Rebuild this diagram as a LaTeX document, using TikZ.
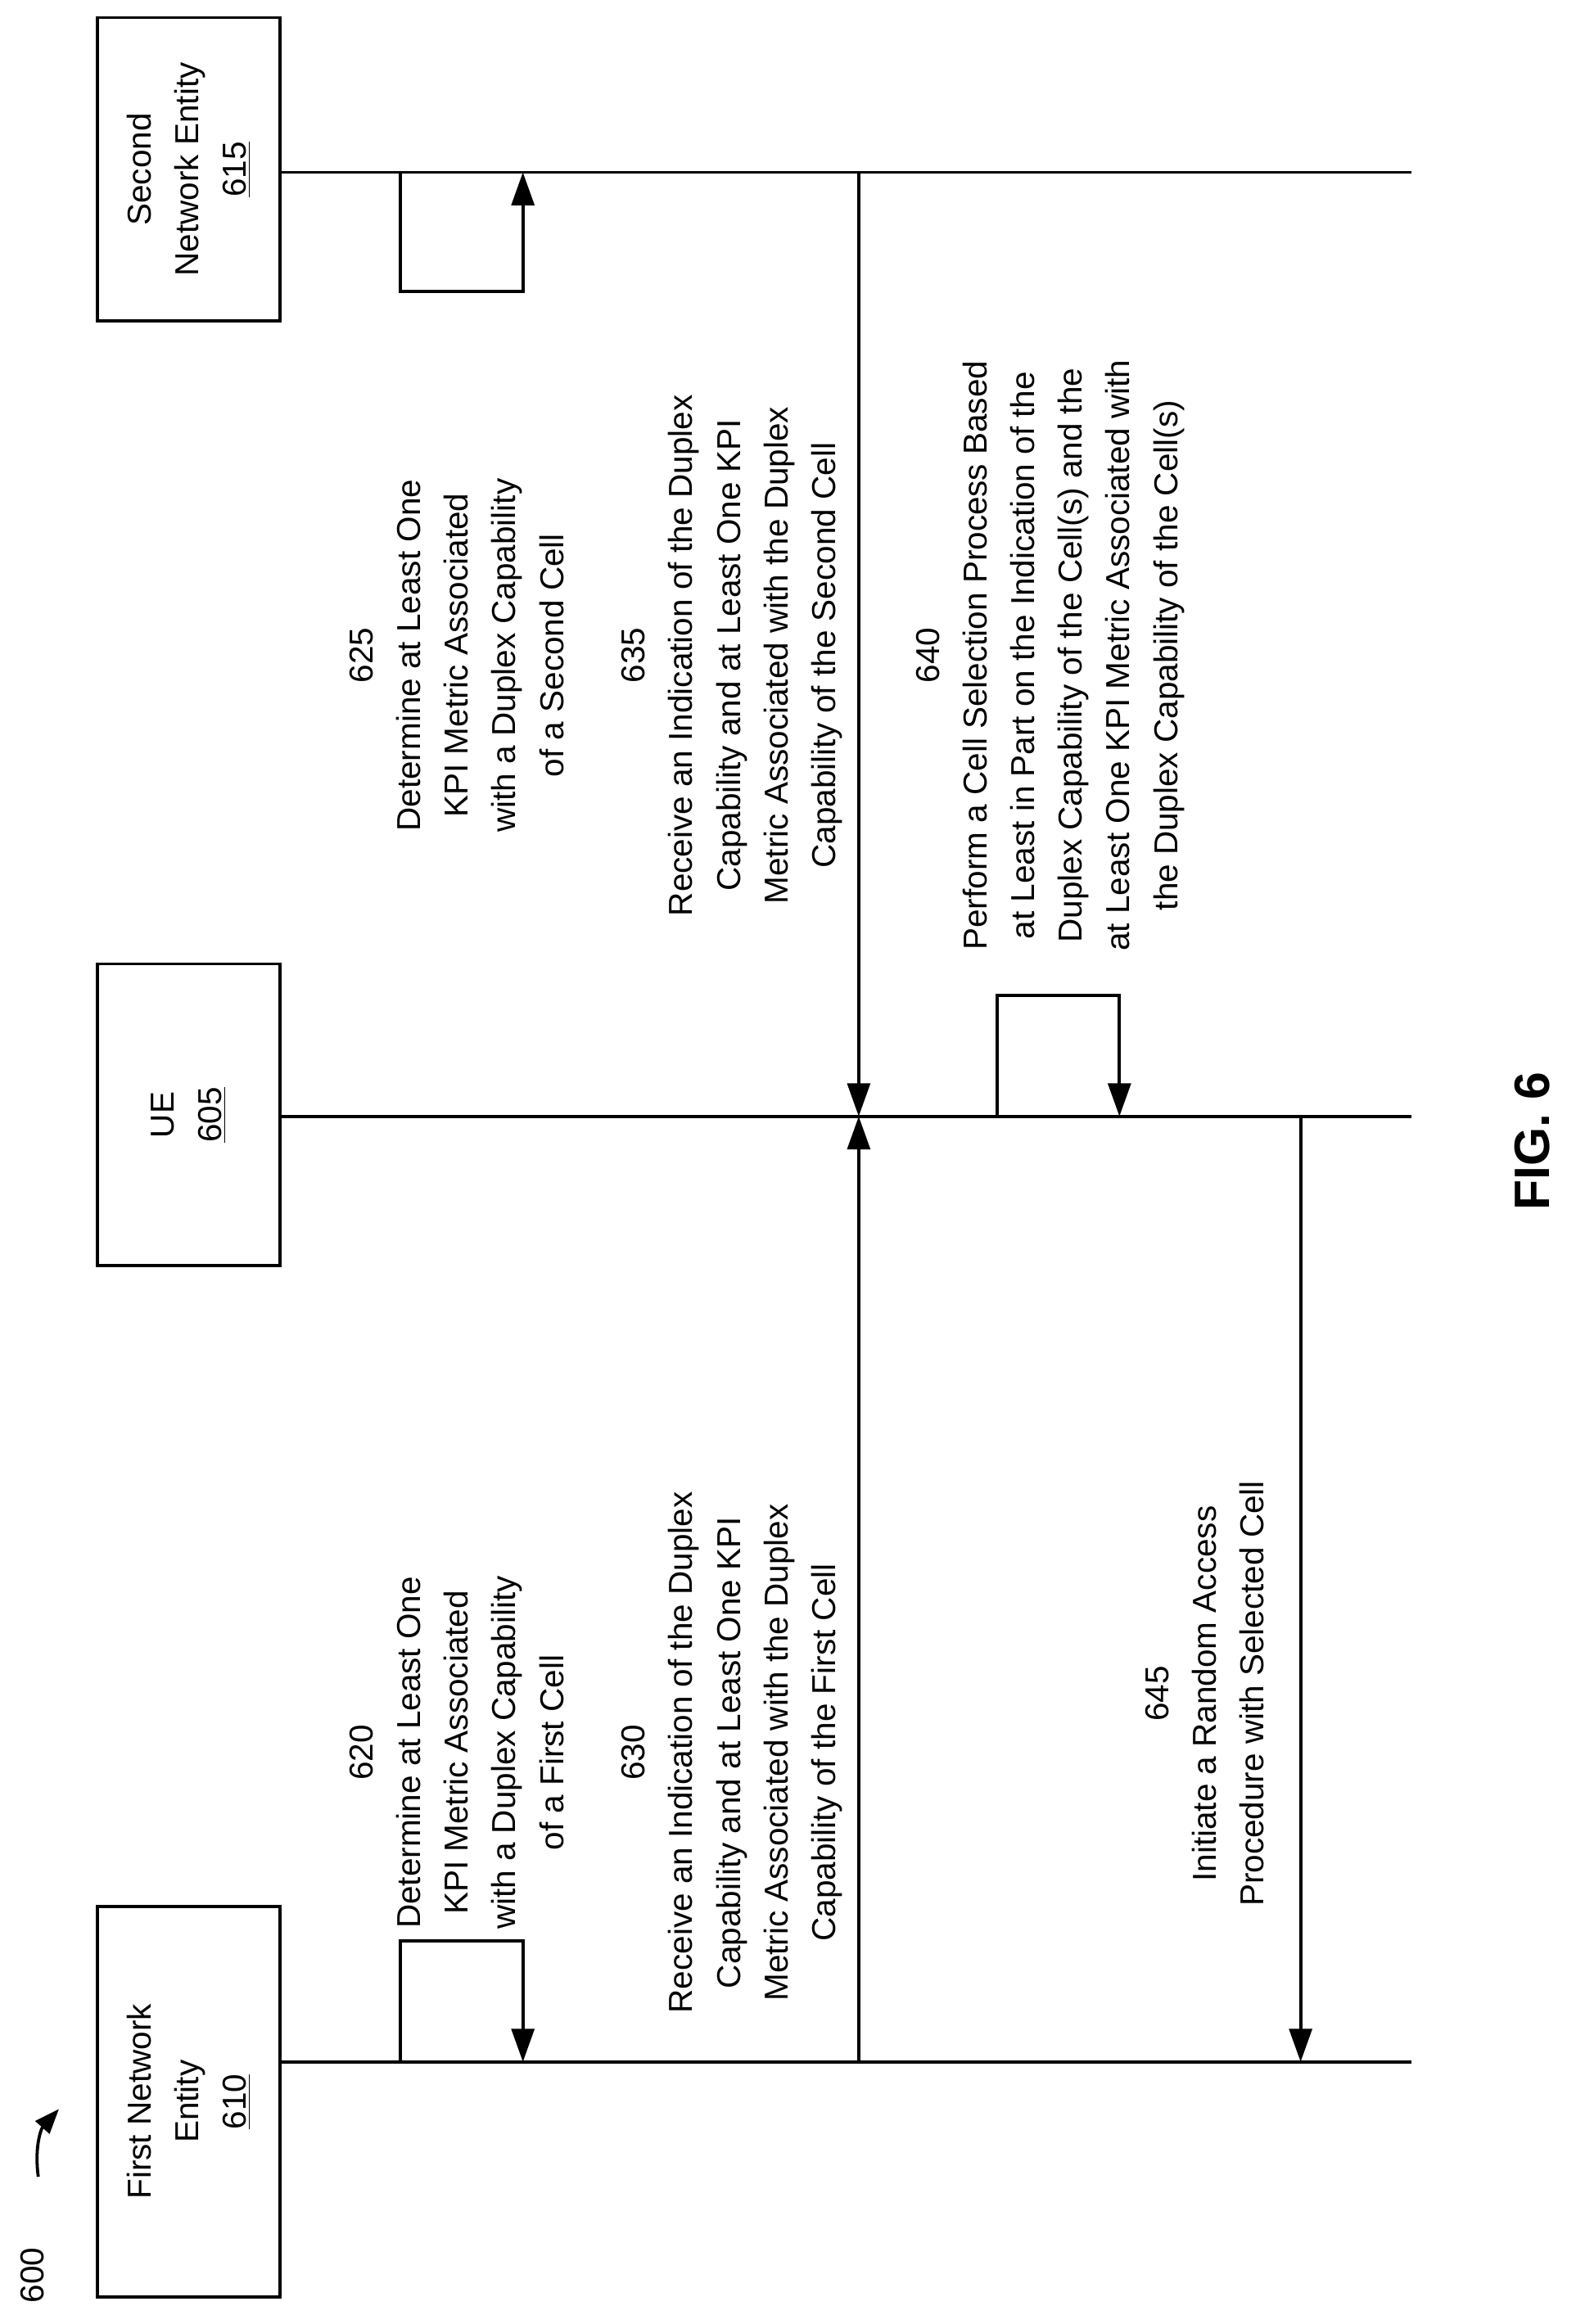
\documentclass[tikz,border=0pt]{standalone}
\usepackage{fontspec}
\setmainfont{Liberation Sans}
\usetikzlibrary{arrows.meta}
\tikzset{
  entity/.style={draw, line width=1.5pt, minimum height=3.1cm, minimum width=0.025cm*#1, rotate=90, align=center, font=\fontsize{16}{23}\selectfont},
  msg/.style={rotate=90, align=center, font=\fontsize{16}{23}\selectfont},
  lifeline/.style={line width=1.5pt},
  arrow/.style={line width=1.5pt, -{Triangle[length=16pt,width=11pt]}}
}
\begin{document}
\begin{tikzpicture}[x=0.025cm, y=-0.025cm]
  \useasboundingbox (0,0) rectangle (1076,1578);
  % Entities
  \node[entity=265] (first) at (128,1427) {First Network\\Entity\\\underline{610}};
  \node[entity=205] (ue) at (128,757) {UE\\\underline{605}};
  \node[entity=206] (second) at (128,115) {Second\\Network Entity\\\underline{615}};

  % Lifelines
  \coordinate (firstend) at (958,1400);
  \coordinate (ueend) at (958,758);
  \coordinate (secondend) at (958,117);
  \draw[lifeline] (first.south |- firstend) -- (firstend);
  \draw[lifeline] (ue.south |- ueend) -- (ueend);
  \draw[lifeline] (second.south |- secondend) -- (secondend);

  % Messages
  \coordinate (m620a) at (272,1400);
  \coordinate (m620b) at (355,1400);
  \draw[arrow] (m620a) -- (272,1318) -- (355,1318) -- (m620b);
  \node[msg] (t620) at (310,1190) {620\\Determine at Least One\\KPI Metric Associated\\with a Duplex Capability\\of a First Cell};

  \coordinate (m625a) at (272,117);
  \coordinate (m625b) at (355,117);
  \draw[arrow] (m625a) -- (272,198) -- (355,198) -- (m625b);
  \node[msg] (t625) at (310,445) {625\\Determine at Least One\\KPI Metric Associated\\with a Duplex Capability\\of a Second Cell};

  \coordinate (m630a) at (583,1400);
  \coordinate (m630b) at (583,758);
  \draw[arrow] (m630a) -- (m630b);
  \node[msg] (t630) at (497,1190) {630\\Receive an Indication of the Duplex\\Capability and at Least One KPI\\Metric Associated with the Duplex\\Capability of the First Cell};

  \coordinate (m635a) at (583,117);
  \coordinate (m635b) at (583,758);
  \draw[arrow] (m635a) -- (m635b);
  \node[msg] (t635) at (497,445) {635\\Receive an Indication of the Duplex\\Capability and at Least One KPI\\Metric Associated with the Duplex\\Capability of the Second Cell};

  \coordinate (m640a) at (677,758);
  \coordinate (m640b) at (760,758);
  \draw[arrow] (m640a) -- (677,676) -- (760,676) -- (m640b);
  \node[msg] (t640) at (713,445) {640\\Perform a Cell Selection Process Based\\at Least in Part on the Indication of the\\Duplex Capability of the Cell(s) and the\\at Least One KPI Metric Associated with\\the Duplex Capability of the Cell(s)};

  \coordinate (m645a) at (883,758);
  \coordinate (m645b) at (883,1400);
  \draw[arrow] (m645a) -- (m645b);
  \node[msg] (t645) at (818,1150) {645\\Initiate a Random Access\\Procedure with Selected Cell};

  % Labels
  \node[msg] (fig) at (1040,775) {\fontsize{24}{28}\selectfont\bfseries FIG. 6};
  \node[msg] (num) at (22,1545) {600};
  \coordinate (numtip) at (40,1432);
  \draw[line width=1.5pt, -{Triangle[length=12pt,width=9pt]}] (26,1478) to[bend left=25] (numtip);
\end{tikzpicture}
\end{document}
